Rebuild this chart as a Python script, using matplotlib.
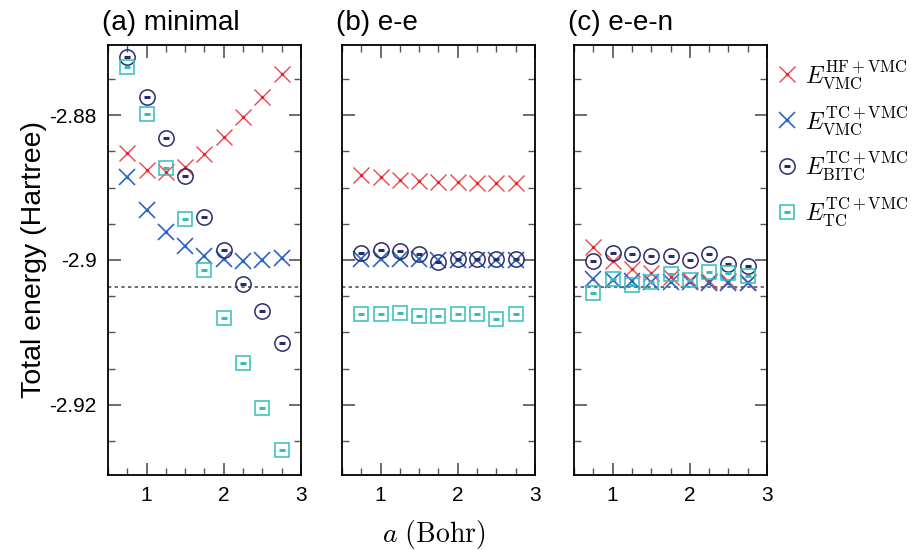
import matplotlib
matplotlib.use("Agg")
import matplotlib.pyplot as plt
from matplotlib.lines import Line2D
from matplotlib.legend_handler import HandlerTuple
from matplotlib.ticker import MultipleLocator

plt.rcParams['font.family'] = ['Liberation Sans', 'DejaVu Sans']
plt.rcParams['mathtext.fontset'] = 'cm'

a = [0.75, 1.0, 1.25, 1.5, 1.75, 2.0, 2.25, 2.5, 2.75]
exact = -2.90372

titles = ['(a) minimal', '(b) e-e', '(c) e-e-n']

# HF+VMC, VMC
hf_vmc = [
    [-2.8852, -2.8876, -2.8878, -2.8871, -2.8853, -2.8830, -2.8803, -2.8775, -2.8743],
    [-2.8883, -2.8886, -2.8890, -2.8891, -2.8892, -2.8892, -2.8893, -2.8893, -2.8893],
    [-2.8982, -2.9002, -2.9013, -2.9018, -2.9024, -2.9028, -2.9029, -2.9029, -2.9030],
]
# TC+VMC, VMC
tc_vmc = [
    [-2.8885, -2.8931, -2.8961, -2.8981, -2.8994, -2.8999, -2.9001, -2.9000, -2.8997],
    [-2.8998, -2.8998, -2.8998, -2.8999, -2.9000, -2.9000, -2.9000, -2.9000, -2.9000],
    [-2.9026, -2.9028, -2.9029, -2.9031, -2.9031, -2.9030, -2.9032, -2.9032, -2.9032],
]
# TC+VMC, BITC
tc_bitc = [
    [-2.8719, -2.8775, -2.8831, -2.8884, -2.8940, -2.8986, -2.9033, -2.9071, -2.9115],
    [-2.8990, -2.8986, -2.8988, -2.8992, -2.9003, -2.8999, -2.8998, -2.8998, -2.8998],
    [-2.9001, -2.8990, -2.8992, -2.8994, -2.8995, -2.9000, -2.8992, -2.9006, -2.9008],
]
# TC+VMC, TC
tc_tc = [
    [-2.8733, -2.8799, -2.8873, -2.8943, -2.9014, -2.9080, -2.9142, -2.9205, -2.9262],
    [-2.9074, -2.9074, -2.9073, -2.9078, -2.9077, -2.9075, -2.9074, -2.9081, -2.9075],
    [-2.9045, -2.9026, -2.9034, -2.9031, -2.9019, -2.9028, -2.9016, -2.9018, -2.9022],
]

red = '#e8262c'
blue = '#2e64c0'
navy = '#2a2d6a'
cyan = '#36bcbc'

# (outer marker, inner mark) per series
styles = [
    (dict(marker='x', ms=11, mew=1.0, color=red, alpha=0.85), dict(marker='.', ms=3, color=red)),
    (dict(marker='x', ms=12, mew=1.2, color=blue), dict(marker='.', ms=3, color=blue)),
    (dict(marker='o', ms=11, mew=1.1, mfc='none', color=navy), dict(marker='_', ms=5, mew=2.2, color=navy)),
    (dict(marker='s', ms=10, mew=1.1, mfc='none', color=cyan), dict(marker='_', ms=5, mew=2.2, color=cyan)),
]
series = [hf_vmc, tc_vmc, tc_bitc, tc_tc]

fig = plt.figure(figsize=(9.19, 5.5), dpi=100)
lefts = [0.1175, 0.3721, 0.6246]
axes = [fig.add_axes([l, 0.1364, 0.210, 0.7818]) for l in lefts]

for i, ax in enumerate(axes):
    ax.axhline(exact, color='#555555', ls=(0, (2, 2)), lw=1.2, zorder=1)
    for s, (outer, inner) in zip(series, styles):
        ax.plot(a, s[i], ls='none', **outer)
        ax.plot(a, s[i], ls='none', **inner)

    ax.set_xlim(0.5, 3.0)
    ax.set_ylim(-2.9297, -2.8703)
    ax.xaxis.set_major_locator(MultipleLocator(1))
    ax.xaxis.set_minor_locator(MultipleLocator(0.25))
    ax.yaxis.set_major_locator(MultipleLocator(0.02))
    ax.yaxis.set_minor_locator(MultipleLocator(0.005))
    ax.tick_params(which='both', direction='in', top=True, right=True, color='#555555')
    ax.tick_params(which='major', length=9, width=1.2, labelsize=15, pad=8)
    ax.tick_params(which='minor', length=5, width=1.0)
    for sp in ax.spines.values():
        sp.set_linewidth(1.3)
    ax.text(-0.03, 1.02, titles[i], transform=ax.transAxes, fontsize=20,
            ha='left', va='bottom')
    if i == 0:
        ax.set_yticks([-2.88, -2.9, -2.92])
        ax.set_yticklabels(['-2.88', '-2.9', '-2.92'])
        ax.set_ylabel('Total energy (Hartree)', fontsize=20.5, labelpad=2)
    else:
        ax.set_yticklabels([])

fig.text(0.4725, 0.028, r'$a\ \mathrm{(Bohr)}$', fontsize=20, ha='center', va='center')

handles = [(Line2D([], [], ls='none', **o), Line2D([], [], ls='none', **n)) for o, n in styles]
labels = [r'$E^{\mathrm{HF+VMC}}_{\mathrm{VMC}}$', r'$E^{\mathrm{TC+VMC}}_{\mathrm{VMC}}$',
          r'$E^{\mathrm{TC+VMC}}_{\mathrm{BITC}}$', r'$E^{\mathrm{TC+VMC}}_{\mathrm{TC}}$']
fig.legend(handles, labels, loc='upper left', bbox_to_anchor=(0.835, 0.912),
           handler_map={tuple: HandlerTuple(ndivide=1)}, frameon=False,
           fontsize=17, handlelength=0.9, handletextpad=0.3, labelspacing=0.55,
           borderaxespad=0)

fig.savefig('out.png', dpi=100)
